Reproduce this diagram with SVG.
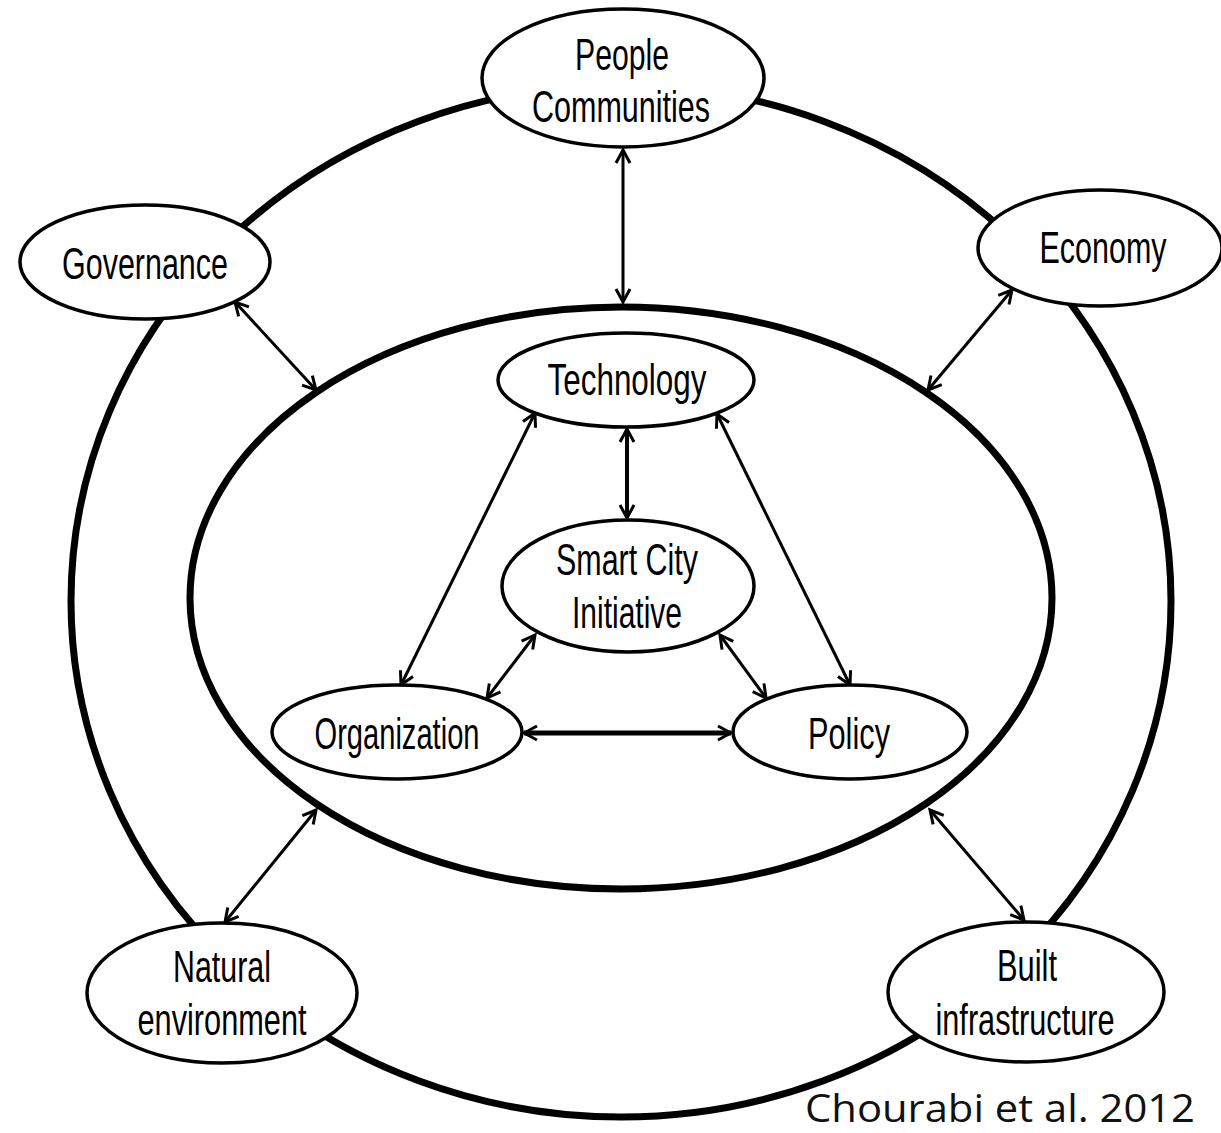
<svg xmlns="http://www.w3.org/2000/svg" width="1221" height="1133" viewBox="0 0 1221 1133">
<style>
.ring{fill:none;stroke:#000;stroke-width:7}
.node{fill:#fff;stroke:#000;stroke-width:3.5}
.lbl{font-family:"Liberation Sans",Arial,sans-serif;font-size:44px;fill:#000;text-anchor:middle}
.con{fill:none;stroke:#000;stroke-width:3;marker-start:url(#ah);marker-end:url(#ah)}
.cit{font-family:"Open Sans","Liberation Sans",sans-serif;font-size:38px;fill:#111}
</style>
<defs>
<marker id="ah" viewBox="0 0 18 18" markerUnits="userSpaceOnUse" markerWidth="18" markerHeight="18" refX="15" refY="9" orient="auto-start-reverse">
<path d="M2,2 L15,9 L2,16" fill="none" stroke="#000" stroke-width="3" stroke-linejoin="miter"/>
</marker>
</defs>
<rect width="1221" height="1133" fill="#fff"/>
<ellipse class="ring" cx="621" cy="601" rx="550" ry="516"/>
<ellipse class="ring" cx="621" cy="598" rx="431" ry="291"/>
<g id="connectors">
<line class="con" x1="623" y1="150" x2="623" y2="302"/>
<line class="con" x1="235" y1="302" x2="316" y2="390"/>
<line class="con" x1="1012" y1="290" x2="928" y2="390"/>
<line class="con" x1="225" y1="922" x2="316" y2="810"/>
<line class="con" x1="930" y1="810" x2="1024" y2="920"/>
<line class="con" style="stroke-width:4" x1="627" y1="429" x2="627" y2="518"/>
<line class="con" x1="535" y1="413" x2="401" y2="685"/>
<line class="con" x1="717" y1="414" x2="850" y2="685"/>
<line class="con" x1="535" y1="635" x2="487" y2="698"/>
<line class="con" x1="720" y1="635" x2="766" y2="698"/>
<line class="con" style="stroke-width:5" x1="524" y1="733" x2="731" y2="733"/>
</g>
<g id="people">
<ellipse class="node" cx="623" cy="78" rx="141" ry="69"/>
<text class="lbl" x="622" y="70" textLength="94" lengthAdjust="spacingAndGlyphs">People</text>
<text class="lbl" x="621" y="122" textLength="178" lengthAdjust="spacingAndGlyphs">Communities</text>
</g>
<g id="governance">
<ellipse class="node" cx="145" cy="262" rx="125" ry="57"/>
<text class="lbl" x="145" y="279" textLength="166" lengthAdjust="spacingAndGlyphs">Governance</text>
</g>
<g id="economy">
<ellipse class="node" cx="1100" cy="248" rx="122" ry="58"/>
<text class="lbl" x="1103" y="263" textLength="127" lengthAdjust="spacingAndGlyphs">Economy</text>
</g>
<g id="technology">
<ellipse class="node" cx="626" cy="380" rx="128" ry="47"/>
<text class="lbl" x="627" y="395" textLength="159" lengthAdjust="spacingAndGlyphs">Technology</text>
</g>
<g id="smartcity">
<ellipse class="node" cx="628" cy="586" rx="126" ry="66"/>
<text class="lbl" x="627" y="575" textLength="142" lengthAdjust="spacingAndGlyphs">Smart City</text>
<text class="lbl" x="627" y="628" textLength="110" lengthAdjust="spacingAndGlyphs">Initiative</text>
</g>
<g id="organization">
<ellipse class="node" cx="397" cy="732" rx="125" ry="47"/>
<text class="lbl" x="397" y="749" textLength="165" lengthAdjust="spacingAndGlyphs">Organization</text>
</g>
<g id="policy">
<ellipse class="node" cx="850" cy="732" rx="117" ry="47"/>
<text class="lbl" x="849" y="749" textLength="82" lengthAdjust="spacingAndGlyphs">Policy</text>
</g>
<g id="natural">
<ellipse class="node" cx="222" cy="993" rx="135" ry="70"/>
<text class="lbl" x="222" y="982" textLength="98" lengthAdjust="spacingAndGlyphs">Natural</text>
<text class="lbl" x="222" y="1035" textLength="169" lengthAdjust="spacingAndGlyphs">environment</text>
</g>
<g id="built">
<ellipse class="node" cx="1026" cy="992" rx="138" ry="70"/>
<text class="lbl" x="1027" y="981" textLength="60" lengthAdjust="spacingAndGlyphs">Built</text>
<text class="lbl" x="1025" y="1035" textLength="179" lengthAdjust="spacingAndGlyphs">infrastructure</text>
</g>
<text class="cit" x="805" y="1122" textLength="390" lengthAdjust="spacingAndGlyphs">Chourabi et al. 2012</text>
</svg>
